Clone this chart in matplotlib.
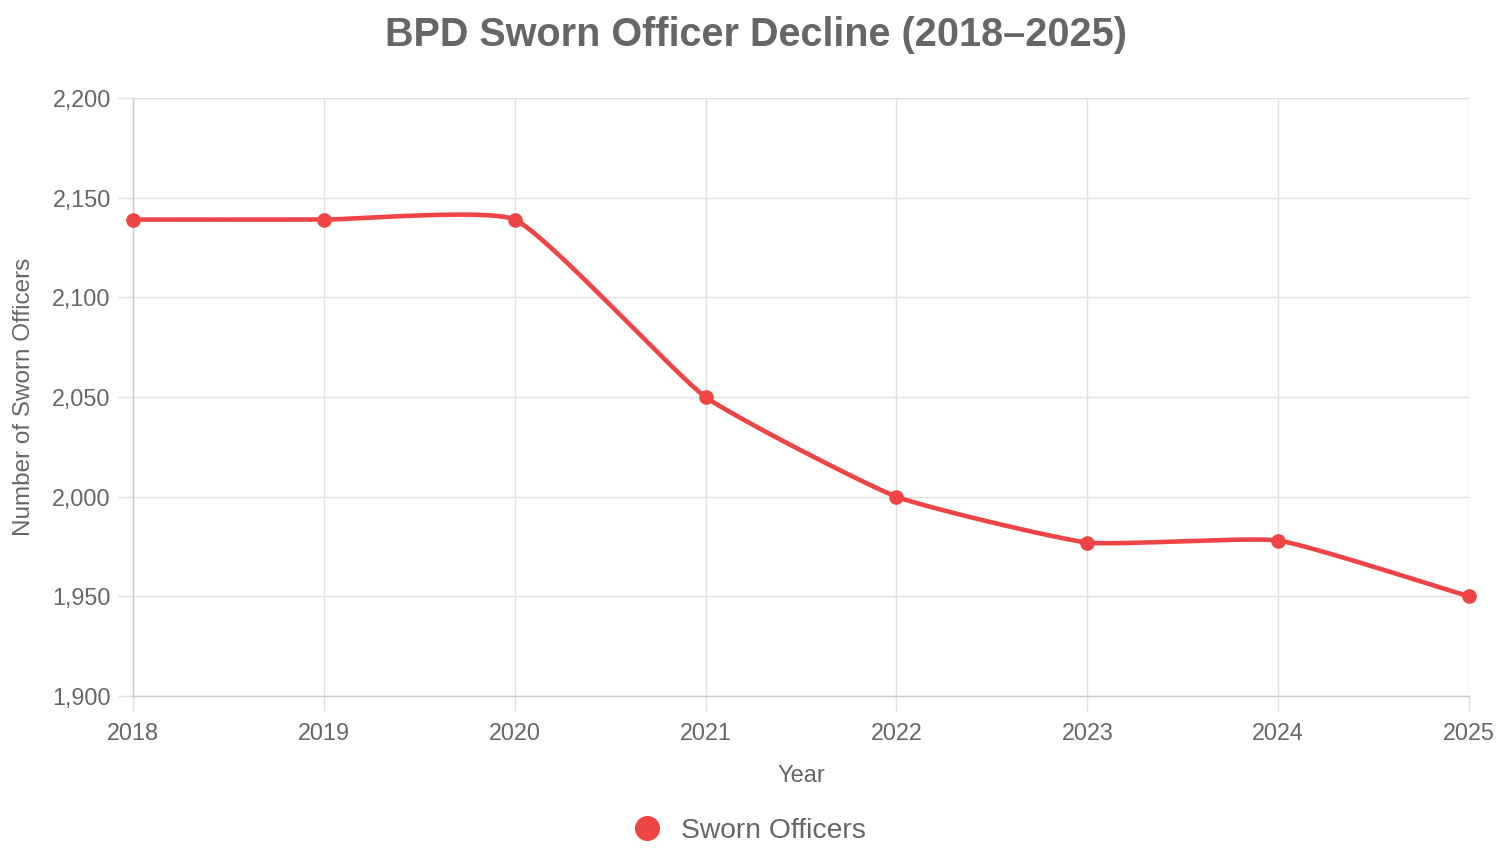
import numpy as np
import matplotlib
matplotlib.use('Agg')
import matplotlib.pyplot as plt
from matplotlib.ticker import FuncFormatter, MultipleLocator
from matplotlib.lines import Line2D

plt.rcParams['font.family'] = ['Liberation Sans', 'DejaVu Sans']

years = [2018, 2019, 2020, 2021, 2022, 2023, 2024, 2025]
officers = [2139, 2139, 2139, 2050, 2000, 1977, 1978, 1950]

kolor = '#ef4444'
szary = '#666666'
siatka = '#e0e0e0'

W, H = 1502, 866
fig = plt.figure(figsize=(W / 100, H / 100), dpi=100)
ax = fig.add_axes([133 / W, 1 - 696 / H, (1469 - 133) / W, (696 - 98) / H])

ax.set_xlim(2018, 2025)
ax.set_ylim(1900, 2200)

# krzywa jak w Chart.js (mala tension), liczona w pikselach
sx = (1469 - 133) / 7.0
sy = (696 - 98) / 300.0
px = np.array(years, dtype=float) * sx
py = np.array(officers, dtype=float) * sy
t = 0.15
n = len(px)
cp_prev = np.zeros((n, 2))
cp_next = np.zeros((n, 2))
for i in range(n):
    p0 = np.array([px[max(i - 1, 0)], py[max(i - 1, 0)]])
    p1 = np.array([px[i], py[i]])
    p2 = np.array([px[min(i + 1, n - 1)], py[min(i + 1, n - 1)]])
    d01 = np.hypot(*(p1 - p0))
    d12 = np.hypot(*(p2 - p1))
    s01 = d01 / (d01 + d12) if d01 + d12 else 0
    s12 = d12 / (d01 + d12) if d01 + d12 else 0
    cp_prev[i] = p1 - t * s01 * (p2 - p0)
    cp_next[i] = p1 + t * s12 * (p2 - p0)

xs, ys = [], []
u = np.linspace(0, 1, 60)
for i in range(n - 1):
    a = np.array([px[i], py[i]])
    b = cp_next[i]
    c = cp_prev[i + 1]
    d = np.array([px[i + 1], py[i + 1]])
    pts = ((1 - u) ** 3)[:, None] * a + (3 * (1 - u) ** 2 * u)[:, None] * b \
        + (3 * (1 - u) * u ** 2)[:, None] * c + (u ** 3)[:, None] * d
    xs.extend(pts[:, 0] / sx)
    ys.extend(pts[:, 1] / sy)

ax.plot(xs, ys, color=kolor, linewidth=3.3, solid_capstyle='round', zorder=3)
ax.plot(years, officers, 'o', color=kolor, markersize=9.5, zorder=4, clip_on=False)

ax.xaxis.set_major_locator(MultipleLocator(1))
ax.yaxis.set_major_locator(MultipleLocator(50))
ax.yaxis.set_major_formatter(FuncFormatter(lambda v, p: f'{int(v):,}'))
ax.grid(True, color=siatka, linewidth=1)
ax.set_axisbelow(True)
for s in ['top', 'right']:
    ax.spines[s].set_visible(False)
for s in ['left', 'bottom']:
    ax.spines[s].set_color('#c8c8c8')
    ax.spines[s].set_linewidth(1)
ax.tick_params(axis='both', length=11, width=1, color=siatka, labelcolor=szary, labelsize=16.8)
ax.tick_params(axis='x', pad=8)
ax.tick_params(axis='y', pad=5)

ax.set_xlabel('Year', fontsize=17, color=szary, labelpad=14)
ax.set_ylabel('Number of Sworn Officers', fontsize=17.5, color=szary, labelpad=12)

fig.text(756 / W, 1 - 35 / H, 'BPD Sworn Officer Decline (2018\u20132025)',
         ha='center', va='center', fontsize=28.5, fontweight='bold', color=szary)

uchwyt = Line2D([], [], marker='o', linestyle='none', color=kolor, markersize=17)
fig.legend([uchwyt], ['Sworn Officers'], loc='center', bbox_to_anchor=(742 / W, 1 - 831 / H),
           frameon=False, fontsize=20.3, labelcolor=szary, handletextpad=0.2, borderpad=0)

plt.savefig('out.png', dpi=100)
